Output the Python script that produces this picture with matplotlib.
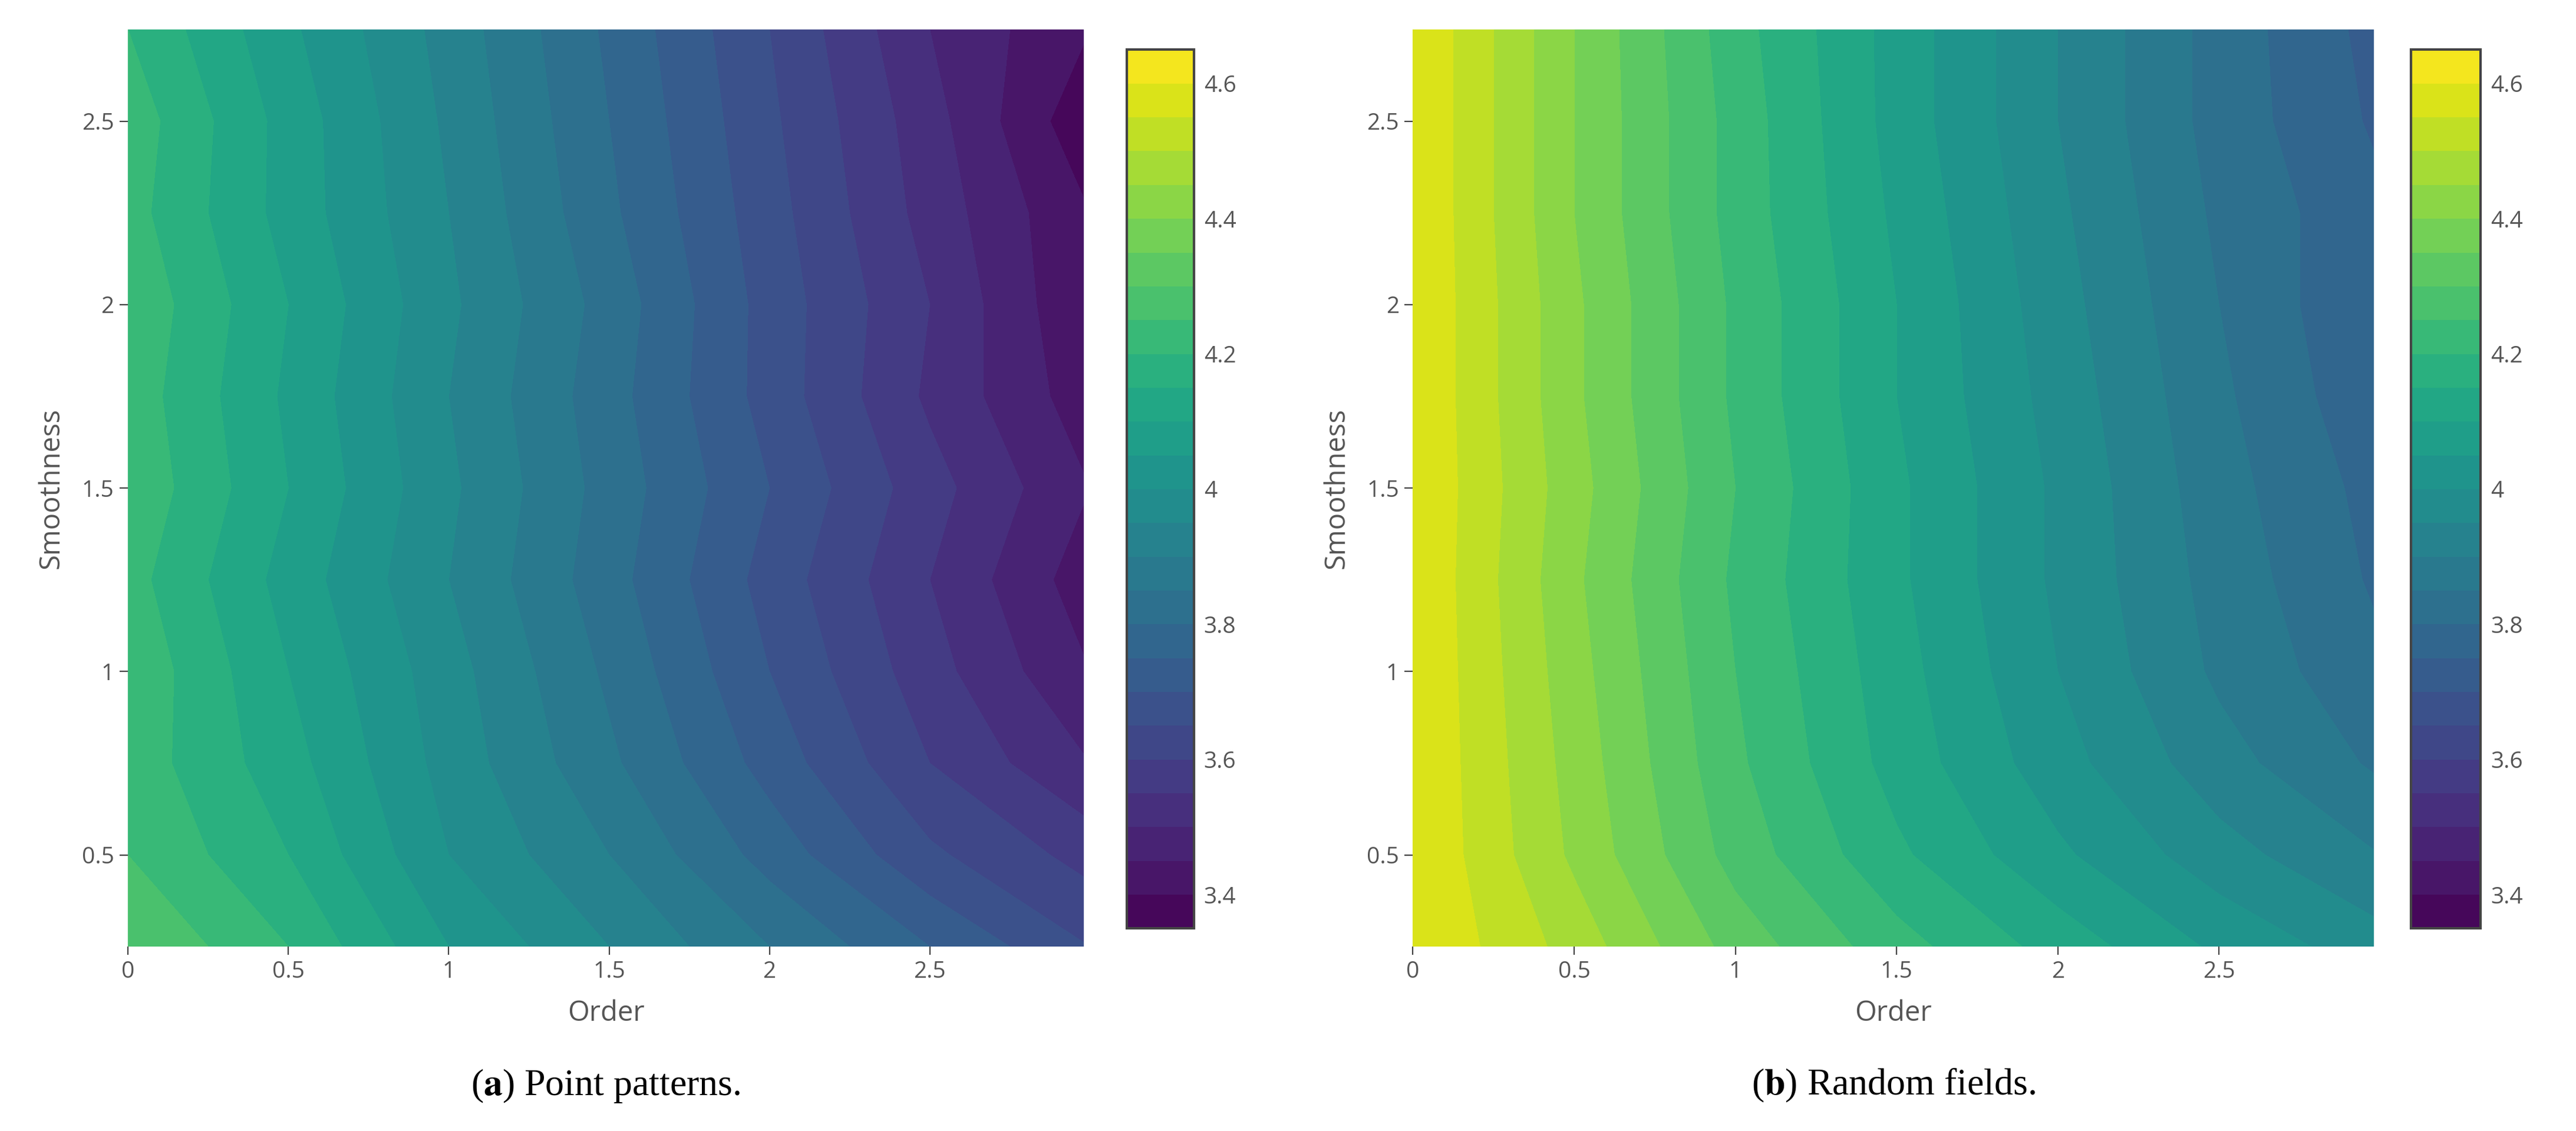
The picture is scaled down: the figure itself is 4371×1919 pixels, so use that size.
import numpy as np
import matplotlib.pyplot as plt

order = [0, 0.5, 1, 1.5, 2, 2.5, 3]
smoothness = [0.25, 0.5, 0.75, 1.0, 1.25, 1.5, 1.75, 2.0, 2.25, 2.5, 2.75]

# panel (a) point patterns, rows = smoothness, cols = order
point_vals = [
    [4.30, 4.20, 4.05, 3.95, 3.85, 3.75, 3.65],
    [4.25, 4.15, 4.00, 3.90, 3.78, 3.66, 3.58],
    [4.23, 4.12, 3.98, 3.86, 3.73, 3.60, 3.50],
    [4.24, 4.10, 3.97, 3.84, 3.70, 3.57, 3.45],
    [4.22, 4.08, 3.95, 3.82, 3.68, 3.55, 3.42],
    [4.24, 4.10, 3.96, 3.83, 3.70, 3.57, 3.45],
    [4.23, 4.09, 3.95, 3.82, 3.68, 3.54, 3.42],
    [4.24, 4.10, 3.96, 3.83, 3.68, 3.55, 3.40],
    [4.22, 4.08, 3.95, 3.81, 3.67, 3.53, 3.40],
    [4.23, 4.08, 3.94, 3.80, 3.66, 3.52, 3.36],
    [4.20, 4.06, 3.93, 3.79, 3.65, 3.50, 3.40],
]
# panel (b) random fields
field_vals = [
    [4.60, 4.48, 4.33, 4.22, 4.13, 4.04, 3.97],
    [4.60, 4.44, 4.28, 4.16, 4.06, 3.97, 3.90],
    [4.60, 4.43, 4.26, 4.13, 4.02, 3.92, 3.84],
    [4.60, 4.42, 4.25, 4.12, 4.00, 3.89, 3.81],
    [4.60, 4.41, 4.24, 4.11, 3.99, 3.88, 3.79],
    [4.60, 4.42, 4.25, 4.11, 3.99, 3.87, 3.78],
    [4.60, 4.41, 4.24, 4.10, 3.98, 3.86, 3.76],
    [4.60, 4.41, 4.24, 4.10, 3.97, 3.85, 3.75],
    [4.60, 4.40, 4.23, 4.09, 3.96, 3.84, 3.76],
    [4.60, 4.40, 4.23, 4.08, 3.95, 3.83, 3.74],
    [4.60, 4.40, 4.22, 4.08, 3.95, 3.83, 3.73],
]
captions = [("a", " Point patterns."), ("b", " Random fields.")]

plt.rcParams['font.family'] = ['Open Sans', 'DejaVu Sans']
grey = "#555555"
levels = np.arange(3.35, 4.651, 0.05)

fig = plt.figure(figsize=(4371 / 200, 1919 / 200), dpi=200)
ax_pos = [[0.0497, 0.163, 0.371, 0.811], [0.5485, 0.163, 0.373, 0.811]]
cb_pos = [[0.4375, 0.179, 0.026, 0.777], [0.936, 0.179, 0.027, 0.777]]

for i, vals in enumerate([point_vals, field_vals]):
    ax = fig.add_axes(ax_pos[i])
    cs = ax.contourf(order, smoothness, np.array(vals), levels=levels,
                     cmap="viridis", vmin=3.35, vmax=4.65)
    ax.set_xlim(0, 2.98)
    ax.set_ylim(0.25, 2.75)
    ax.set_xticks([0, 0.5, 1, 1.5, 2, 2.5])
    ax.set_xticklabels(["0", "0.5", "1", "1.5", "2", "2.5"])
    ax.set_yticks([0.5, 1, 1.5, 2, 2.5])
    ax.set_yticklabels(["0.5", "1", "1.5", "2", "2.5"])
    for s in ax.spines.values():
        s.set_visible(False)
    ax.tick_params(colors=grey, labelsize=14, length=5, color="#444444")
    ax.set_xlabel("Order", color=grey, fontsize=17, labelpad=10)
    ax.set_ylabel("Smoothness", color=grey, fontsize=17, labelpad=10)

    cax = fig.add_axes(cb_pos[i])
    cb = fig.colorbar(cs, cax=cax)
    cb.set_ticks([3.4, 3.6, 3.8, 4.0, 4.2, 4.4, 4.6])
    cb.set_ticklabels(["3.4", "3.6", "3.8", "4", "4.2", "4.4", "4.6"])
    cb.outline.set_edgecolor("#444444")
    cb.outline.set_linewidth(1.5)
    cax.tick_params(colors=grey, labelsize=14, length=0, pad=6)

    x0 = ax_pos[i][0] + ax_pos[i][2] / 2
    fig.text(x0, 0.04, "(" + r"$\mathbf{" + captions[i][0] + "}$" + ")" + captions[i][1],
             ha="center", va="center", fontsize=23, family="Liberation Serif",
             math_fontfamily="stix")

fig.savefig("out.png", dpi=200)
